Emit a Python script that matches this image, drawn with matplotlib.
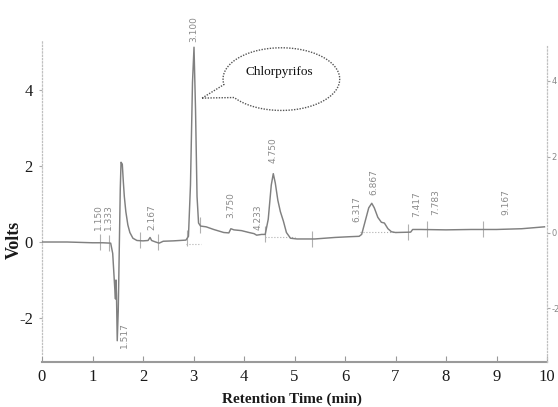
import numpy as np
import matplotlib
matplotlib.use("Agg")
import matplotlib.pyplot as plt
from matplotlib.patches import Polygon

# --- data -----------------------------------------------------------------

time_min = [0.00, 0.50, 1.00, 1.20, 1.36, 1.40, 1.42, 1.44, 1.455, 1.465,
            1.475, 1.49, 1.51, 1.53, 1.55, 1.565, 1.59, 1.61, 1.63, 1.66,
            1.70, 1.74, 1.80, 1.88, 2.00, 2.10, 2.14, 2.17, 2.25, 2.32,
            2.40, 2.60, 2.85, 2.90, 2.94, 2.98, 3.01, 3.04, 3.07, 3.10,
            3.14, 3.25, 3.40, 3.60, 3.70, 3.74, 3.80, 3.95, 4.10, 4.20,
            4.25, 4.35, 4.42, 4.48, 4.54, 4.58, 4.62, 4.67, 4.72, 4.78,
            4.84, 4.92, 5.05, 5.40, 5.80, 6.10, 6.28, 6.33, 6.40, 6.47,
            6.53, 6.58, 6.65, 6.72, 6.78, 6.85, 6.92, 7.00, 7.30, 7.34,
            7.50, 8.00, 8.50, 9.00, 9.50, 9.95]
volts = [0.00, 0.00, -0.02, -0.02, -0.03, -0.30, -0.75, -1.20, -1.50, -1.00,
         -1.40, -2.60, -1.80, -0.20, 1.40, 2.10, 2.05, 1.60, 1.20, 0.80,
         0.45, 0.25, 0.10, 0.04, 0.03, 0.04, 0.12, 0.04, 0.00, -0.03,
         0.02, 0.03, 0.05, 0.15, 1.50, 4.20, 5.13, 3.50, 1.20, 0.50,
         0.42, 0.40, 0.33, 0.25, 0.24, 0.35, 0.32, 0.30, 0.25, 0.22,
         0.18, 0.20, 0.20, 0.60, 1.50, 1.80, 1.55, 1.10, 0.80, 0.55,
         0.25, 0.10, 0.08, 0.08, 0.12, 0.14, 0.15, 0.20, 0.55, 0.90,
         1.02, 0.90, 0.65, 0.52, 0.50, 0.35, 0.27, 0.25, 0.26, 0.33,
         0.33, 0.32, 0.33, 0.33, 0.35, 0.40]

# retention-time labels: text, x position, y position of the label
peak_labels = ["1.150", "1.333", "1.517", "2.167", "3.100", "3.750", "4.233",
               "4.750", "6.317", "6.867", "7.417", "7.783", "9.167"]
peak_label_x = [1.12, 1.31, 1.63, 2.17, 3.01, 3.74, 4.28,
                4.58, 6.23, 6.57, 7.43, 7.79, 9.18]
peak_label_y = [0.32, 0.32, -2.10, 0.32, 5.26, 0.63, 0.32,
                2.08, 0.53, 1.24, 0.66, 0.71, 0.71]

# integration markers (short vertical ticks on the trace)
marker_times = [1.15, 1.33, 1.94, 2.30, 2.87, 3.13, 4.42, 5.35, 7.25, 7.62, 8.73]

# integration baselines drawn as dotted segments
baseline_segments = [(2.85, 3.15, -0.05), (4.42, 5.00, 0.12), (6.30, 7.00, 0.26)]

x_ticks = list(range(0, 11))
y_ticks = [-2, 0, 2, 4]

# --- figure ---------------------------------------------------------------

fig = plt.figure(figsize=(5.58, 4.07), dpi=100)
ax = fig.add_axes([42 / 558, 1 - 362 / 407, 505 / 558, 322 / 407])

TRACE = "#808080"
LABEL_GREY = "#8a8a8a"

ax.plot(time_min, volts, color=TRACE, linewidth=1.05, zorder=3)

for t in marker_times:
    v = np.interp(t, time_min, volts)
    ax.vlines(t, v - 0.2, v + 0.22, color="#b0b0b0", linewidth=0.8, zorder=2)

for x0, x1, v in baseline_segments:
    ax.plot([x0, x1], [v, v], color="#b0b0b0", linewidth=0.8,
            linestyle=":", zorder=2)

for txt, x, y in zip(peak_labels, peak_label_x, peak_label_y):
    va = "top" if y < 0 else "bottom"
    ax.text(x, y, txt, rotation=90, ha="center", va=va, fontsize=6.5,
            color=LABEL_GREY, family="DejaVu Sans", clip_on=False)

# Chlorpyrifos speech bubble
cx, cy, a, b = 4.74, 4.29, 1.155, 0.825
tip = (3.17, 3.79)
ang = np.radians(np.linspace(216, 190 + 360, 200))
pts = np.column_stack([cx + a * np.cos(ang), cy + b * np.sin(ang)])
pts = np.vstack([[tip], pts, [tip]])
bubble = Polygon(pts, closed=True, facecolor="white", edgecolor="#555555",
                 linewidth=1.0, linestyle=(0, (1, 1)), zorder=4)
ax.add_patch(bubble)
ax.text(4.69, 4.47, "Chlorpyrifos", ha="center", va="center", fontsize=9.5,
        family="Liberation Serif", color="#111111", zorder=5)

ax.set_xlim(0, 10)
ax.set_ylim(-3.16, 5.32)
ax.set_xticks(x_ticks)
ax.set_yticks(y_ticks)
ax.set_xticklabels([str(v) for v in x_ticks], family="Liberation Serif",
                   fontsize=12, color="#1a1a1a")
ax.set_yticklabels([str(v) for v in y_ticks], family="Liberation Serif",
                   fontsize=12, color="#1a1a1a")
ax.tick_params(axis="x", direction="in", length=4, width=0.8,
               color="#999999", pad=5)
ax.tick_params(axis="y", direction="out", length=2, width=0.8,
               color="#aaaaaa", pad=4.5)

ax.spines["top"].set_visible(False)
ax.spines["right"].set_visible(False)
ax.spines["bottom"].set_color("#9a9a9a")
ax.spines["bottom"].set_linewidth(1.5)
ax.spines["left"].set_color("#c0c0c0")
ax.spines["left"].set_linestyle(":")
ax.spines["left"].set_linewidth(0.9)
ax.spines["left"].set_bounds(-2.95, 5.32)

# secondary detector scale on the right, slightly offset
ax2 = ax.twinx()
ax2.set_ylim(-3.16 - 0.25, 5.32 - 0.25)
ax2.set_yticks(y_ticks)
ax2.set_yticklabels([str(v) for v in y_ticks], fontsize=6,
                    color="#888888", family="DejaVu Sans")
ax2.tick_params(axis="y", direction="out", length=2, width=0.8,
                color="#aaaaaa", pad=1)
for side in ["top", "left", "bottom"]:
    ax2.spines[side].set_visible(False)
ax2.spines["right"].set_color("#c0c0c0")
ax2.spines["right"].set_linestyle(":")
ax2.spines["right"].set_linewidth(0.9)
ax2.spines["right"].set_bounds(-3.4, 4.95)

fig.text(14 / 558, 1 - 240 / 407, "Volts", rotation=90, ha="center",
         va="center", fontsize=13, fontweight="bold",
         family="Liberation Serif", color="#1a1a1a")
fig.text(292 / 558, 1 - 399 / 407, "Retention Time (min)", ha="center",
         va="center", fontsize=11, fontweight="bold",
         family="Liberation Serif", color="#1a1a1a")

fig.savefig("out.png", dpi=100)
